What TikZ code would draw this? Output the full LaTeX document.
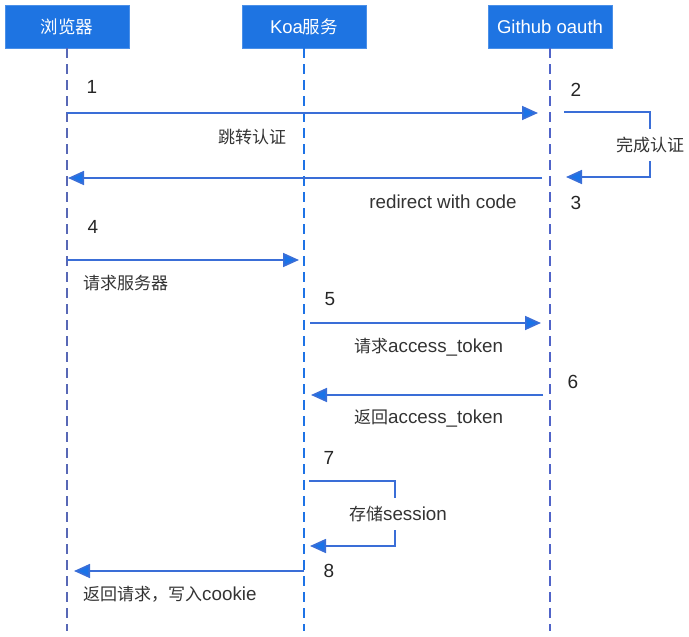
\documentclass[tikz,border=0pt]{standalone}
\usepackage{fontspec}
\setmainfont{Liberation Sans}
\newfontfamily\cjk{Noto Sans CJK SC}
\usetikzlibrary{arrows.meta}
\definecolor{boxblue}{RGB}{30,116,226}
\definecolor{msgblue}{RGB}{58,110,215}
\definecolor{tipblue}{RGB}{26,115,232}
\definecolor{lifegrey}{RGB}{88,104,182}
\definecolor{lifeblue}{RGB}{30,115,230}
\definecolor{lifegh}{RGB}{80,100,200}
\definecolor{txt}{RGB}{51,51,51}
\newcommand{\zh}[1]{{\cjk\fontsize{17}{20}\selectfont #1}}
\newcommand{\zhb}[1]{{\cjk\fontsize{17.5}{20}\selectfont #1}}
\tikzset{
  actor/.style={fill=boxblue, draw=boxblue!80!white, minimum width=124pt, minimum height=43pt,
    inner sep=0pt, text=white, font=\fontsize{18.5}{20}\selectfont},
  life/.style={line width=1.8pt, dash pattern=on 10pt off 6pt},
  msg/.style={draw=msgblue, line width=1.7pt, -{Triangle[length=16pt,width=14pt,fill=tipblue]}},
  lbl/.style={text=txt, inner sep=1pt, font=\fontsize{18.8}{20}\selectfont},
  num/.style={text=black!85, inner sep=0pt, font=\fontsize{19}{20}\selectfont},
  gap/.style={lbl, fill=white, inner xsep=1pt, inner ysep=8pt}
}
\begin{document}
\begin{tikzpicture}[x=1pt, y=-1pt]
\useasboundingbox (0,0) rectangle (689,637);
% actors
\node[actor] (b) at (67,26.5) {\zhb{浏览器}};
\node[actor] (k) at (304,26.5) {Koa\zhb{服务}};
\node[actor] (g) at (550,26.5) {Github oauth};
% lifelines
\coordinate (bEnd) at (67,631);
\coordinate (kEnd) at (304,631);
\coordinate (gEnd) at (550,631);
\draw[life, lifegrey] (b.south) -- (bEnd);
\draw[life, lifeblue] (k.south) -- (kEnd);
\draw[life, lifegh] (g.south) -- (gEnd);
% message 1
\coordinate (m1s) at (67,113);
\coordinate (m1e) at (538,113);
\draw[msg] (m1s) -- (m1e);
\node[num] (n1) at (92,87) {1};
\node[lbl] (t1) at (252,137) {\zh{跳转认证}};
% self loop 2-3 on github
\coordinate (m2s) at (564,112);
\coordinate (m2a) at (650,112);
\coordinate (m2b) at (650,177);
\coordinate (m2e) at (566,177);
\draw[msg] (m2s) -- (m2a) -- (m2b) -- (m2e);
\node[gap] (t2) at (650,145) {\zh{完成认证}};
\node[num] (n2) at (576,90) {2};
% message 3
\coordinate (m3s) at (542,178);
\coordinate (m3e) at (68,178);
\draw[msg] (m3s) -- (m3e);
\node[lbl] (t3) at (443,202) {redirect with code};
\node[num] (n3) at (576,203) {3};
% message 4
\coordinate (m4s) at (67,260);
\coordinate (m4e) at (299,260);
\draw[msg] (m4s) -- (m4e);
\node[num] (n4) at (93,227) {4};
\node[lbl, anchor=west] (t4) at (82,283) {\zh{请求服务器}};
% message 5
\coordinate (m5s) at (310,323);
\coordinate (m5e) at (541,323);
\draw[msg] (m5s) -- (m5e);
\node[num] (n5) at (330,299) {5};
\node[lbl, anchor=west] (t5) at (353,347) {\zh{请求}access\_token};
% message 6
\coordinate (m6s) at (543,395);
\coordinate (m6e) at (311,395);
\draw[msg] (m6s) -- (m6e);
\node[num] (n6) at (573,382) {6};
\node[lbl, anchor=west] (t6) at (353,418) {\zh{返回}access\_token};
% self loop 7 on koa
\coordinate (m7s) at (309,481);
\coordinate (m7a) at (395,481);
\coordinate (m7b) at (395,546);
\coordinate (m7e) at (310,546);
\draw[msg] (m7s) -- (m7a) -- (m7b) -- (m7e);
\node[gap] (t7) at (398,514) {\zh{存储}session};
\node[num] (n7) at (329,458) {7};
% message 8
\coordinate (m8s) at (304,571);
\coordinate (m8e) at (74,571);
\draw[msg] (m8s) -- (m8e);
\node[num] (n8) at (329,571) {8};
\node[lbl, anchor=west] (t8) at (82,594) {\zh{返回请求，写入}cookie};
\end{tikzpicture}
\end{document}
